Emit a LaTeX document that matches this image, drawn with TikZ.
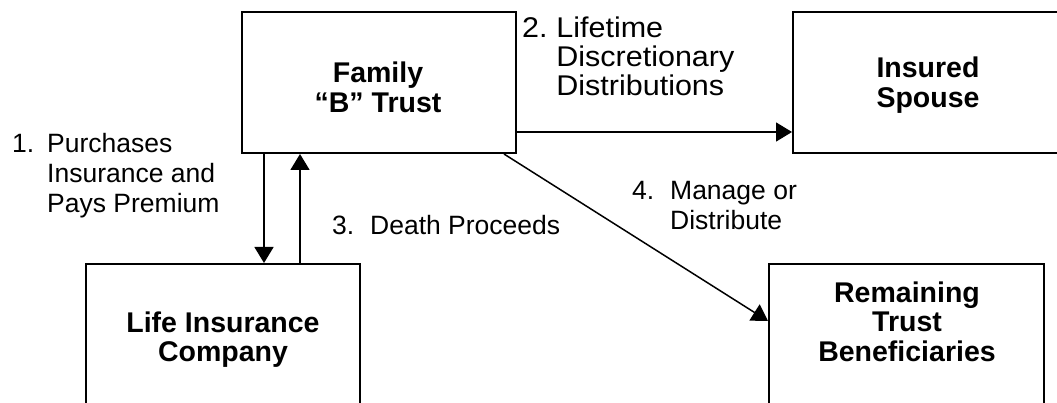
\documentclass[tikz,border=0pt]{standalone}
\usepackage{fontspec}
\setmainfont{Liberation Sans}
\usetikzlibrary{arrows.meta,calc}
\begin{document}
\begin{tikzpicture}[x=1pt,y=-1pt,
  box/.style={draw,line width=2pt,inner sep=0pt},
  arr/.style={line width=1.5pt,-{Triangle[length=16pt,width=19pt]}},
  btxt/.style={inner sep=0pt,anchor=base,font=\bfseries\fontsize{28.5}{29.5}\selectfont},
  lbl/.style={inner sep=0pt,anchor=base west,font=\fontsize{26.5}{30}\selectfont}]
\useasboundingbox (0,0) rectangle (1057,403);
\clip (0,0) rectangle (1057,403);
% boxes
\node[box,minimum width=274pt,minimum height=141pt] (fam) at (379,82.5) {};
\node[box,minimum width=270pt,minimum height=141pt] (spouse) at (928,82.5) {};
\node[box,minimum width=274pt,minimum height=160pt] (life) at (223,344) {};
\node[box,minimum width=275pt,minimum height=160pt] (rem) at (906.5,344) {};
% box texts
\node[btxt] (famt) at (378,83) {\begin{tabular}[t]{@{}c@{}}Family\\“B” Trust\end{tabular}};
\node[btxt] (spouset) at (928,78) {\begin{tabular}[t]{@{}c@{}}Insured\\Spouse\end{tabular}};
\node[btxt] (lifet) at (223,332) {\begin{tabular}[t]{@{}c@{}}Life Insurance\\Company\end{tabular}};
\node[btxt] (remt) at (907,302) {\begin{tabular}[t]{@{}c@{}}Remaining\\Trust\\Beneficiaries\end{tabular}};
% connectors
\draw[arr] ($(fam.south west)+(23,0)$) -- ($(life.north west)+(179,0)$);
\draw[arr] ($(life.north west)+(215,0)$) -- ($(fam.south west)+(59,0)$);
\draw[arr] ($(fam.south east)+(0,-22)$) -- ($(spouse.south west)+(0,-22)$);
\draw[arr] ($(fam.south west)+(263,0)$) -- ($(rem.north west)+(0,58)$);
% labels
\node[lbl] (l1) at (12,153) {\begin{tabular}[t]{@{}p{35pt}@{}l@{}}1.&Purchases\\&Insurance and\\&Pays Premium\end{tabular}};
\node[lbl,font=\fontsize{28.5}{26.5}\selectfont] (l2) at (522,38) {\scalebox{1.07}[1]{\begin{tabular}[t]{@{}p{32pt}@{}l@{}}2.&Lifetime\\&Discretionary\\&Distributions\end{tabular}}};
\node[lbl] (l3) at (332,235) {\begin{tabular}[t]{@{}p{38pt}@{}l@{}}3.&Death Proceeds\end{tabular}};
\node[lbl] (l4) at (632,200) {\begin{tabular}[t]{@{}p{38pt}@{}l@{}}4.&Manage or\\&Distribute\end{tabular}};
\end{tikzpicture}
\end{document}
